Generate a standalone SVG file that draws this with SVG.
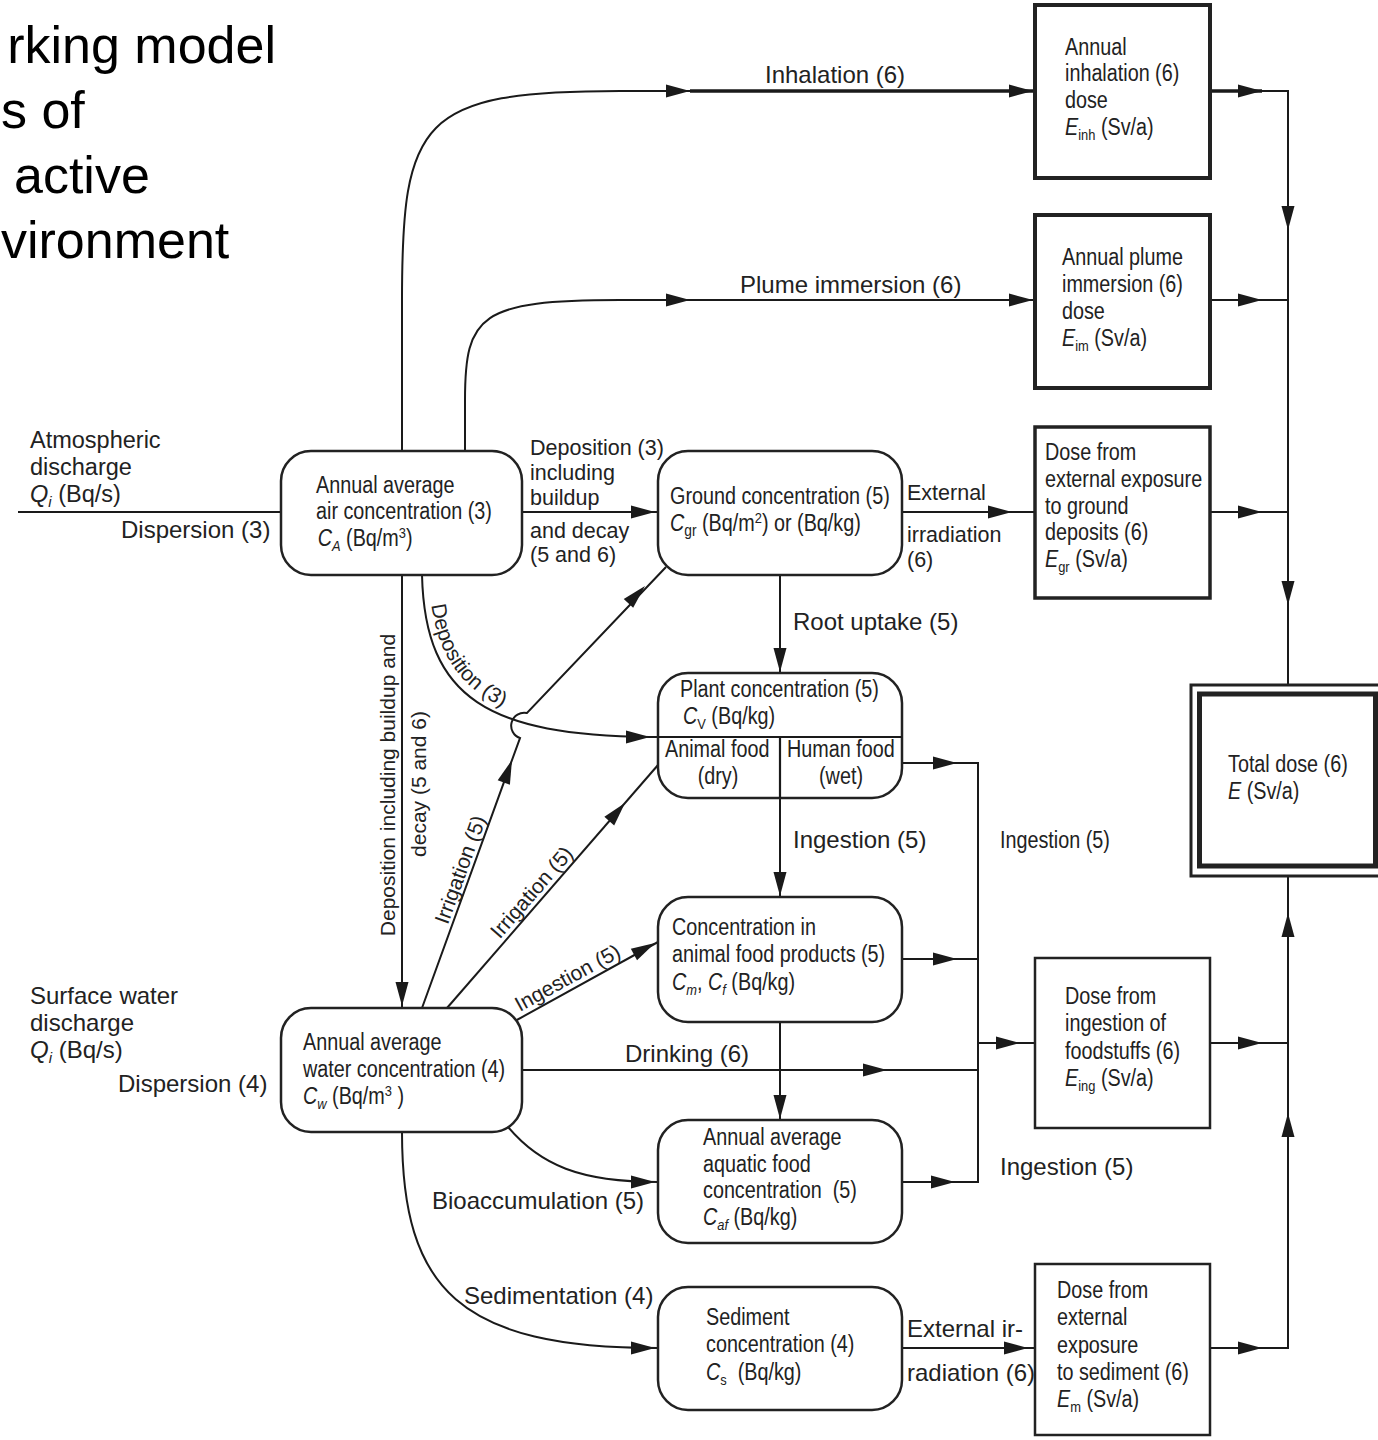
<svg xmlns="http://www.w3.org/2000/svg" xmlns:xlink="http://www.w3.org/1999/xlink" width="1378" height="1440" viewBox="0 0 1378 1440">
<style>
text{font-family:"Liberation Sans",Arial,Helvetica,sans-serif;fill:#222}
.t{font-size:52px;fill:#000}
.n{font-size:23px}
.r{font-size:24px}
.s{font-size:21.5px}
.i{font-style:italic}
.ln{fill:none;stroke:#1a1a1a;stroke-width:2}
.th{fill:none;stroke:#1a1a1a;stroke-width:3.5}
.box{fill:#fff;stroke:#222;stroke-width:2.5}
.dose{fill:#fff;stroke:#222}
</style>
<defs>
<path id="ah" d="M0,0 L-24,-6.5 L-24,6.5 Z" fill="#1a1a1a"/>
<path id="depPath" d="M429,575 C432,690 494,729 650,731"/>
</defs>
<rect width="1378" height="1440" fill="#fff"/>

<g id="title">
<text class="t" x="276" y="63" text-anchor="end">rking model</text>
<text class="t" x="1" y="128">s of</text>
<text class="t" x="14" y="193">active</text>
<text class="t" x="1" y="258">vironment</text>
</g>

<g id="connectors">
<path class="ln" d="M18,512 L281,512"/>
<path class="ln" d="M402,451 L402,300 C402,120 420,91 620,91 L690,91"/>
<path class="th" d="M690,91 L1035,91"/>
<path class="ln" d="M465,451 L465,400 C465,315 480,300 620,300 L1035,300"/>
<path class="ln" d="M522,512 L658,512"/>
<path class="ln" d="M902,512 L1035,512"/>
<path class="ln" d="M780,575 L780,673"/>
<path class="ln" d="M780,798 L780,897"/>
<path class="ln" d="M780,1022 L780,1120"/>
<path class="ln" d="M402,575 L402,1008"/>
<path class="ln" d="M422,575 C425,700 490,735 650,737 L658,737"/>
<path class="ln" d="M422,1008 L520,738 A13,13 0 0 1 527,713 L666,567"/>
<path class="ln" d="M447,1008 L658,765"/>
<path class="ln" d="M515,1021 L658,942"/>
<path class="ln" d="M522,1070 L978,1070"/>
<path class="ln" d="M508,1127 C540,1165 580,1182 658,1182"/>
<path class="ln" d="M402,1132 C402,1290 460,1348 658,1348"/>
<path class="ln" d="M902,1348 L1035,1348"/>
<path class="ln" d="M902,763 L978,763 L978,1182 L902,1182"/>
<path class="ln" d="M902,959 L978,959"/>
<path class="ln" d="M978,1043 L1035,1043"/>
<path class="th" d="M1210,91 L1262,91"/>
<path class="ln" d="M1262,91 L1288,91 L1288,684"/>
<path class="ln" d="M1210,300 L1288,300"/>
<path class="ln" d="M1210,512 L1288,512"/>
<path class="ln" d="M1288,877 L1288,1348 L1210,1348"/>
<path class="ln" d="M1210,1043 L1288,1043"/>

<use xlink:href="#ah" transform="translate(690,91)"/>
<use xlink:href="#ah" transform="translate(1033,91)"/>
<use xlink:href="#ah" transform="translate(690,300)"/>
<use xlink:href="#ah" transform="translate(1033,300)"/>
<use xlink:href="#ah" transform="translate(1262,91)"/>
<use xlink:href="#ah" transform="translate(1262,300)"/>
<use xlink:href="#ah" transform="translate(1262,512)"/>
<use xlink:href="#ah" transform="translate(1262,1043)"/>
<use xlink:href="#ah" transform="translate(1262,1348)"/>
<use xlink:href="#ah" transform="translate(1288,230) rotate(90)"/>
<use xlink:href="#ah" transform="translate(1288,605) rotate(90)"/>
<use xlink:href="#ah" transform="translate(1288,913) rotate(-90)"/>
<use xlink:href="#ah" transform="translate(1288,1113) rotate(-90)"/>
<use xlink:href="#ah" transform="translate(655,512)"/>
<use xlink:href="#ah" transform="translate(1012,512)"/>
<use xlink:href="#ah" transform="translate(780,672) rotate(90)"/>
<use xlink:href="#ah" transform="translate(780,896) rotate(90)"/>
<use xlink:href="#ah" transform="translate(780,1119) rotate(90)"/>
<use xlink:href="#ah" transform="translate(402,1006) rotate(90)"/>
<use xlink:href="#ah" transform="translate(650,737)"/>
<use xlink:href="#ah" transform="translate(512,760) rotate(-70)"/>
<use xlink:href="#ah" transform="translate(645,586) rotate(-46.4)"/>
<use xlink:href="#ah" transform="translate(625,803) rotate(-49)"/>
<use xlink:href="#ah" transform="translate(655,943) rotate(-28.6)"/>
<use xlink:href="#ah" transform="translate(957,763)"/>
<use xlink:href="#ah" transform="translate(957,959)"/>
<use xlink:href="#ah" transform="translate(955,1182)"/>
<use xlink:href="#ah" transform="translate(887,1070)"/>
<use xlink:href="#ah" transform="translate(1020,1043)"/>
<use xlink:href="#ah" transform="translate(655,1182)"/>
<use xlink:href="#ah" transform="translate(655,1348)"/>
<use xlink:href="#ah" transform="translate(1028,1348)"/>

<text class="r" x="765" y="83">Inhalation (6)</text>
<text class="r" x="740" y="293">Plume immersion (6)</text>
<text class="r" x="30" y="448" style="font-size:23.5px">Atmospheric<tspan x="30" dy="27">discharge</tspan><tspan x="30" dy="27" class="i">Q</tspan><tspan class="i" font-size="15" dy="5">i</tspan><tspan dy="-5"> (Bq/s)</tspan></text>
<text class="r" x="121" y="538">Dispersion (3)</text>
<text class="s" x="530" y="455">Deposition (3)<tspan x="530" dy="25">including</tspan><tspan x="530" dy="25">buildup</tspan></text>
<text class="s" x="530" y="538">and decay<tspan x="530" dy="24">(5 and 6)</tspan></text>
<text class="s" x="907" y="500">External</text>
<text class="s" x="907" y="542">irradiation<tspan x="907" dy="25">(6)</tspan></text>
<text class="r" x="793" y="630">Root uptake (5)</text>
<text class="r" x="793" y="848">Ingestion (5)</text>
<text class="n" transform="translate(1000,848) scale(0.86,1)">Ingestion (5)</text>
<text class="r" x="1000" y="1175">Ingestion (5)</text>
<text class="r" x="30" y="1004">Surface water<tspan x="30" dy="27">discharge</tspan><tspan x="30" dy="27" class="i">Q</tspan><tspan class="i" font-size="15" dy="5">i</tspan><tspan dy="-5"> (Bq/s)</tspan></text>
<text class="r" x="118" y="1092">Dispersion (4)</text>
<text class="r" x="625" y="1062">Drinking (6)</text>
<text class="r" x="432" y="1209">Bioaccumulation (5)</text>
<text class="r" x="464" y="1304">Sedimentation (4)</text>
<text class="r" x="907" y="1337">External ir-</text>
<text class="r" x="907" y="1381">radiation (6)</text>
<text class="s" style="font-size:21px" transform="translate(395,785) rotate(-90)" text-anchor="middle">Deposition including buildup and</text>
<text class="s" style="font-size:21px" transform="translate(426,784) rotate(-90)" text-anchor="middle">decay (5 and 6)</text>
<text class="s" style="font-size:21px"><textPath xlink:href="#depPath" startOffset="30">Deposition (3)</textPath></text>
<text class="s" style="font-size:21px" transform="translate(467,872) rotate(-70)" text-anchor="middle">Irrigation (5)</text>
<text class="s" style="font-size:21px" transform="translate(537,897) rotate(-49)" text-anchor="middle">Irrigation (5)</text>
<text class="s" style="font-size:21px" transform="translate(571,984) rotate(-28.6)" text-anchor="middle">Ingestion (5)</text>
</g>

<g id="air">
<rect class="box" x="281" y="451" width="241" height="124" rx="30"/>
<text class="n" transform="translate(316,493) scale(0.86,1)">Annual average<tspan x="0" dy="26.5">air concentration (3)</tspan><tspan x="2" dy="27" class="i">C</tspan><tspan class="i" font-size="15" dy="5">A</tspan><tspan dy="-5"> (Bq/m</tspan><tspan font-size="15" dy="-8">3</tspan><tspan dy="8">)</tspan></text>
</g>

<g id="ground">
<rect class="box" x="658" y="451" width="244" height="124" rx="30"/>
<text class="n" transform="translate(670,504) scale(0.86,1)">Ground concentration (5)<tspan x="0" dy="27" class="i">C</tspan><tspan font-size="16" dy="5">gr</tspan><tspan dy="-5"> (Bq/m</tspan><tspan font-size="15" dy="-8">2</tspan><tspan dy="8">) or (Bq/kg)</tspan></text>
</g>

<g id="plant">
<rect class="box" x="658" y="673" width="244" height="125" rx="30"/>
<path class="ln" style="stroke-width:2.2" d="M658,737 L902,737 M780,737 L780,798"/>
<text class="n" transform="translate(680,697) scale(0.86,1)">Plant concentration (5)</text>
<text class="n" transform="translate(683,724) scale(0.86,1)"><tspan class="i">C</tspan><tspan font-size="15" dy="5">V</tspan><tspan dy="-5"> (Bq/kg)</tspan></text>
<text class="n" transform="translate(665,757) scale(0.86,1)">Animal food</text>
<text class="n" transform="translate(718,784) scale(0.86,1)" text-anchor="middle">(dry)</text>
<text class="n" transform="translate(787,757) scale(0.86,1)">Human food</text>
<text class="n" transform="translate(841,784) scale(0.86,1)" text-anchor="middle">(wet)</text>
</g>

<g id="animal">
<rect class="box" x="658" y="897" width="244" height="125" rx="30"/>
<text class="n" transform="translate(672,935) scale(0.86,1)">Concentration in<tspan x="0" dy="27">animal food products (5)</tspan><tspan x="0" dy="28" class="i">C</tspan><tspan class="i" font-size="15" dy="5">m</tspan><tspan dy="-5">, </tspan><tspan class="i">C</tspan><tspan class="i" font-size="15" dy="5">f</tspan><tspan dy="-5"> (Bq/kg)</tspan></text>
</g>

<g id="aquatic">
<rect class="box" x="658" y="1120" width="244" height="123" rx="30"/>
<text class="n" transform="translate(703,1145) scale(0.86,1)">Annual average<tspan x="0" dy="26.7">aquatic food</tspan><tspan x="0" dy="26.7" xml:space="preserve">concentration  (5)</tspan><tspan x="0" dy="27" class="i">C</tspan><tspan class="i" font-size="15" dy="5">af</tspan><tspan dy="-5"> (Bq/kg)</tspan></text>
</g>

<g id="sediment">
<rect class="box" x="658" y="1287" width="244" height="123" rx="30"/>
<text class="n" transform="translate(706,1325) scale(0.86,1)">Sediment<tspan x="0" dy="27.5">concentration (4)</tspan><tspan x="0" dy="27.5" class="i">C</tspan><tspan font-size="15" dy="5">s</tspan><tspan dy="-5" xml:space="preserve">  (Bq/kg)</tspan></text>
</g>

<g id="water">
<rect class="box" x="281" y="1008" width="241" height="124" rx="30"/>
<text class="n" transform="translate(303,1050) scale(0.86,1)">Annual average<tspan x="0" dy="27">water concentration (4)</tspan><tspan x="0" dy="27" class="i">C</tspan><tspan class="i" font-size="15" dy="5">w</tspan><tspan dy="-5"> (Bq/m</tspan><tspan font-size="15" dy="-8">3</tspan><tspan dy="8"> )</tspan></text>
</g>

<g id="dose-inhalation">
<rect class="dose" style="stroke-width:4" x="1035" y="5" width="175" height="173"/>
<text class="n" transform="translate(1065,55) scale(0.86,1)">Annual<tspan x="0" dy="26.5">inhalation (6)</tspan><tspan x="0" dy="26.5">dose</tspan><tspan x="0" dy="27" class="i">E</tspan><tspan font-size="15" dy="5">inh</tspan><tspan dy="-5"> (Sv/a)</tspan></text>
</g>

<g id="dose-plume">
<rect class="dose" style="stroke-width:4" x="1035" y="215" width="175" height="173"/>
<text class="n" transform="translate(1062,265) scale(0.86,1)">Annual plume<tspan x="0" dy="27">immersion (6)</tspan><tspan x="0" dy="27">dose</tspan><tspan x="0" dy="27" class="i">E</tspan><tspan font-size="15" dy="5">im</tspan><tspan dy="-5"> (Sv/a)</tspan></text>
</g>

<g id="dose-ground">
<rect class="dose" style="stroke-width:3.5" x="1035" y="427" width="175" height="171"/>
<text class="n" transform="translate(1045,460) scale(0.86,1)">Dose from<tspan x="0" dy="26.8">external exposure</tspan><tspan x="0" dy="26.8">to ground</tspan><tspan x="0" dy="26.8">deposits (6)</tspan><tspan x="0" dy="26.8" class="i">E</tspan><tspan font-size="15" dy="5">gr</tspan><tspan dy="-5"> (Sv/a)</tspan></text>
</g>

<g id="dose-ingestion">
<rect class="dose" style="stroke-width:2.5" x="1035" y="958" width="175" height="170"/>
<text class="n" transform="translate(1065,1004) scale(0.86,1)">Dose from<tspan x="0" dy="27.3">ingestion of</tspan><tspan x="0" dy="27.3">foodstuffs (6)</tspan><tspan x="0" dy="27.3" class="i">E</tspan><tspan font-size="15" dy="5">ing</tspan><tspan dy="-5"> (Sv/a)</tspan></text>
</g>

<g id="dose-sediment">
<rect class="dose" style="stroke-width:2.5" x="1035" y="1264" width="175" height="171"/>
<text class="n" transform="translate(1057,1298) scale(0.86,1)">Dose from<tspan x="0" dy="27.3">external</tspan><tspan x="0" dy="27.3">exposure</tspan><tspan x="0" dy="27.3">to sediment (6)</tspan><tspan x="0" dy="27.3" class="i">E</tspan><tspan font-size="15" dy="5">m</tspan><tspan dy="-5"> (Sv/a)</tspan></text>
</g>

<g id="total">
<rect x="1191" y="685" width="200" height="191" fill="#fff" stroke="#222" stroke-width="3"/>
<rect x="1199.5" y="694" width="176" height="172" fill="#fff" stroke="#222" stroke-width="5"/>
<text class="n" transform="translate(1228,772) scale(0.86,1)">Total dose (6)<tspan x="0" dy="27" class="i">E</tspan><tspan> (Sv/a)</tspan></text>
</g>
</svg>
